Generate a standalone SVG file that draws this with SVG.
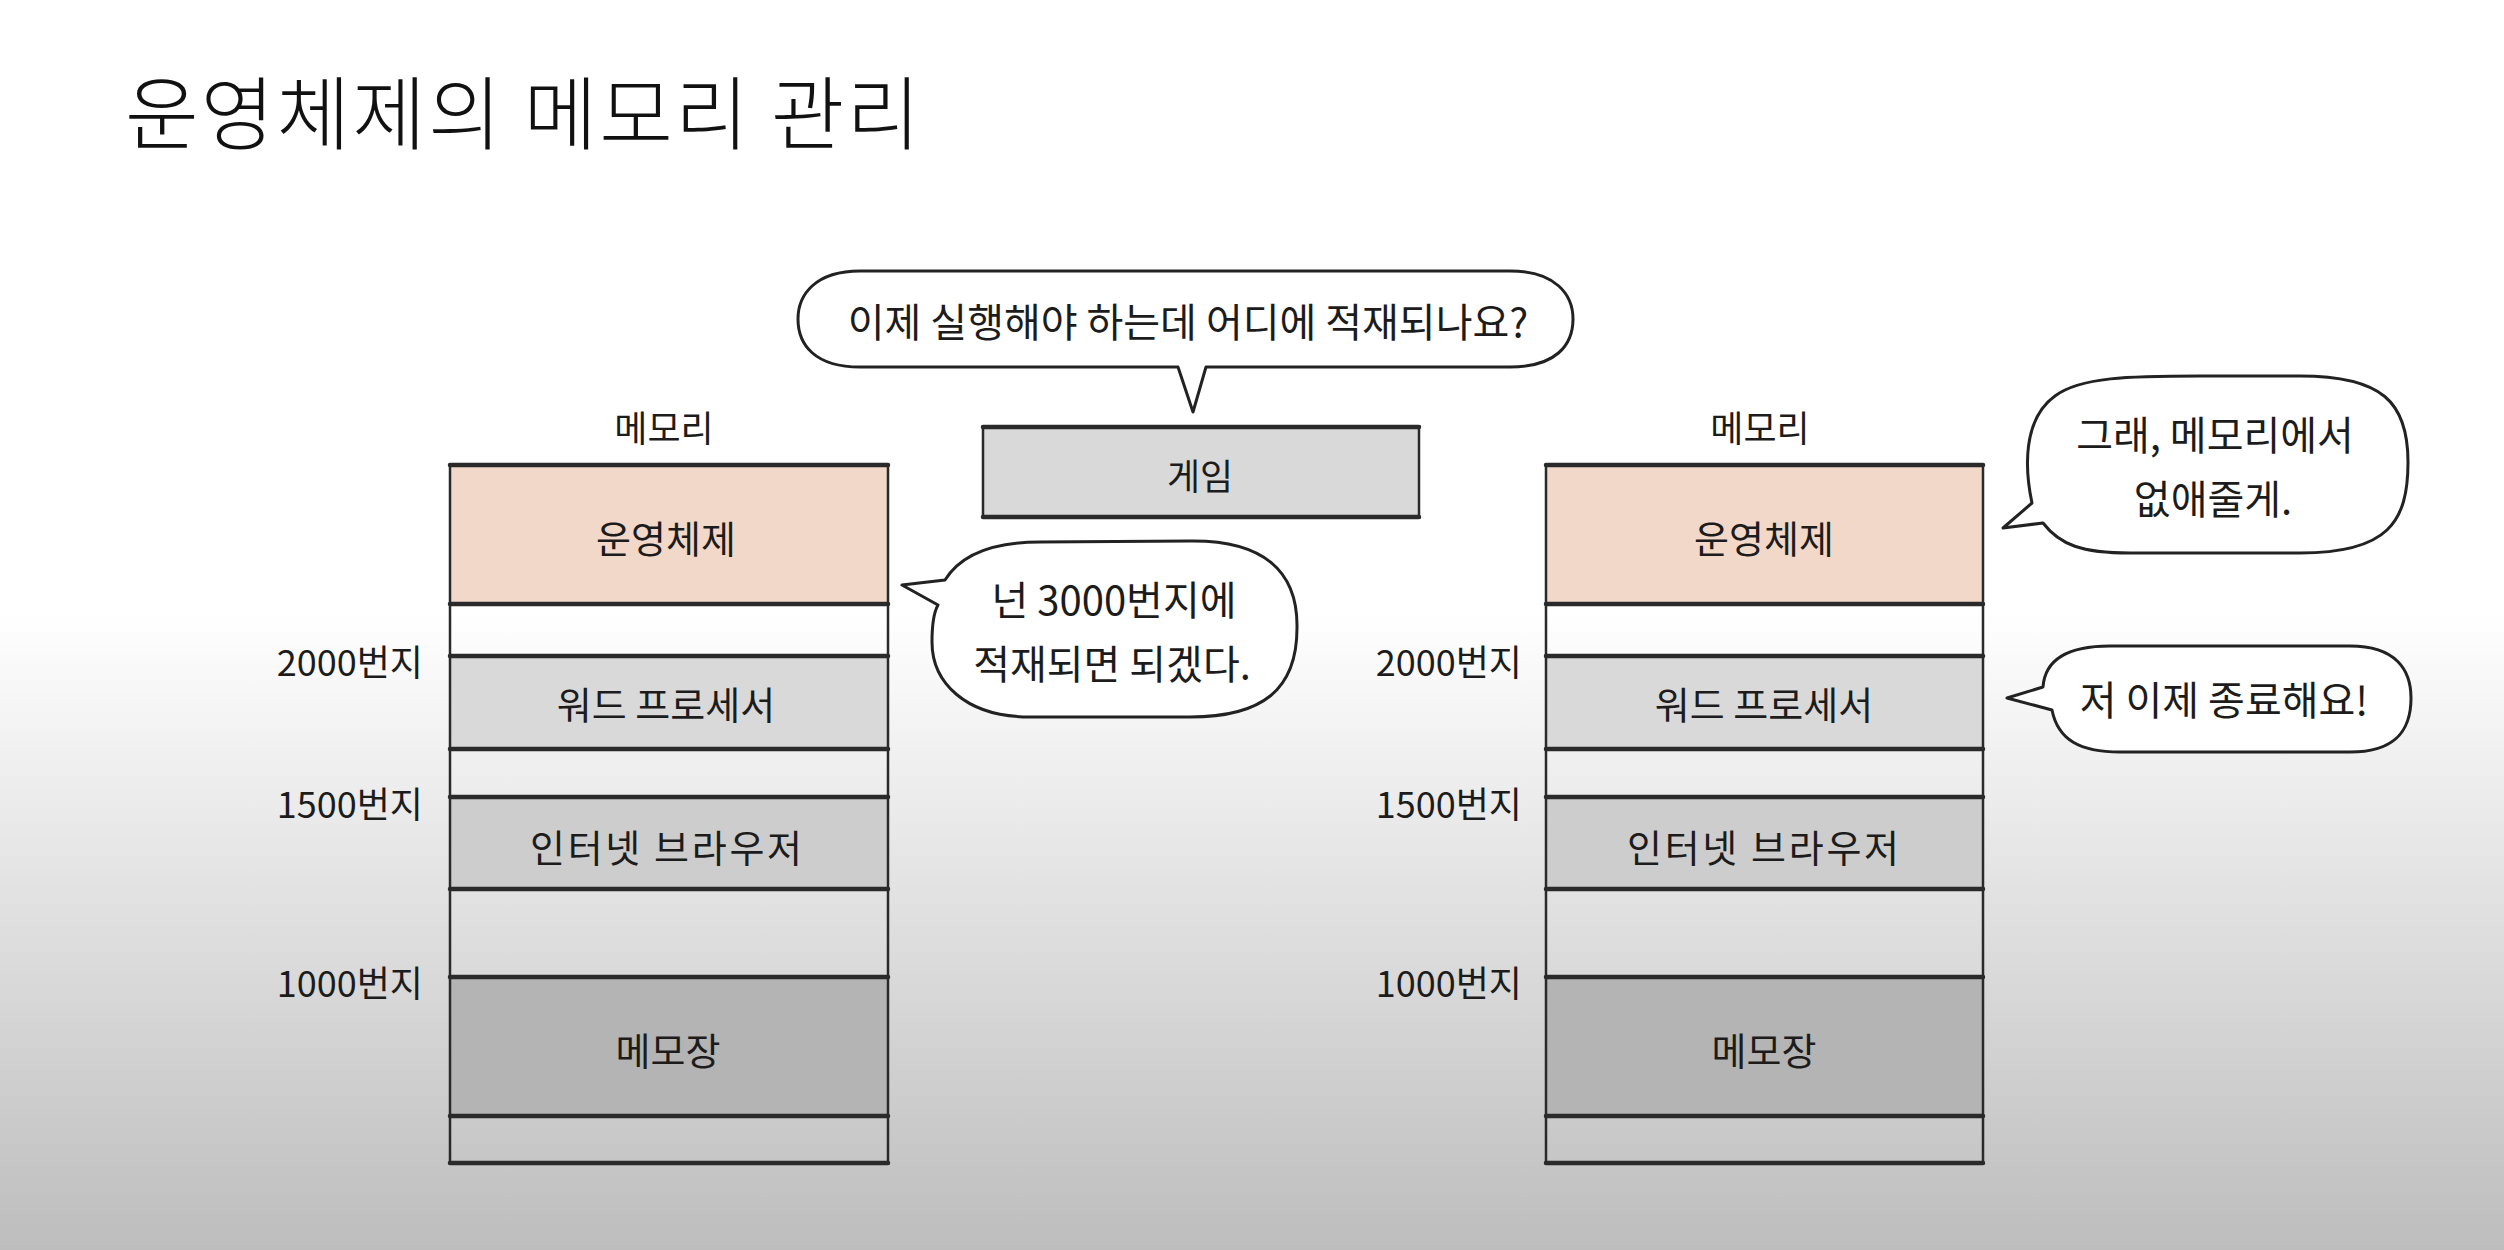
<svg xmlns="http://www.w3.org/2000/svg" width="2504" height="1250" viewBox="0 0 2504 1250">
  <defs>
    <linearGradient id="bg" x1="0" y1="0" x2="0" y2="1250" gradientUnits="userSpaceOnUse">
      <stop offset="0" stop-color="#ffffff"/>
      <stop offset="0.49" stop-color="#ffffff"/>
      <stop offset="1" stop-color="#bdbdbd"/>
    </linearGradient>
  </defs>
  <style>
    .t { font-family: "Noto Sans CJK KR", "Noto Sans", sans-serif; fill: #1c1c1c; text-anchor: middle; dominant-baseline: central; }
    .addr { font-family: "Noto Sans CJK KR", "Noto Sans", sans-serif; fill: #1c1c1c; text-anchor: end; dominant-baseline: central; font-size: 36px; }
    .blk { font-size: 38px; }
    .bub { font-size: 40px; }
    .h { stroke: #2a2a2a; stroke-width: 4.5; stroke-linecap: round; fill: none; }
    .v { stroke: #2a2a2a; stroke-width: 2.5; fill: none; }
    .bubble { fill: #ffffff; stroke: #222222; stroke-width: 3; stroke-linejoin: round; }
    .os { fill: #f2d8c9; }
    .word { fill: #d9d9d9; }
    .inet { fill: #cdcdcd; }
    .memo { fill: #b4b4b4; }
    .game { fill: #d9d9d9; }
  </style>

  <rect x="0" y="0" width="2504" height="1250" fill="url(#bg)"/>

  <g id="title">
    <text x="125" y="108" font-size="80" font-weight="300" textLength="795" lengthAdjust="spacing" style="font-family: 'Noto Sans CJK KR', 'Noto Sans', sans-serif; fill:#111; dominant-baseline: central;">운영체제의 메모리 관리</text>
  </g>

  <!-- Left memory -->
  <g id="memory-left">
    <text class="t" x="664" y="426" font-size="36">메모리</text>
    <rect class="os" x="450" y="465" width="438" height="139"/>
    <rect class="word" x="450" y="656" width="438" height="93"/>
    <rect class="inet" x="450" y="797" width="438" height="92"/>
    <rect class="memo" x="450" y="977" width="438" height="139"/>
    <line class="v" x1="450" y1="465" x2="450" y2="1163"/>
    <line class="v" x1="888" y1="465" x2="888" y2="1163"/>
    <line class="h" x1="450" y1="465" x2="888" y2="465"/>
    <line class="h" x1="450" y1="604" x2="888" y2="604"/>
    <line class="h" x1="450" y1="656" x2="888" y2="656"/>
    <line class="h" x1="450" y1="749" x2="888" y2="749"/>
    <line class="h" x1="450" y1="797" x2="888" y2="797"/>
    <line class="h" x1="450" y1="889" x2="888" y2="889"/>
    <line class="h" x1="450" y1="977" x2="888" y2="977"/>
    <line class="h" x1="450" y1="1116" x2="888" y2="1116"/>
    <line class="h" x1="450" y1="1163" x2="888" y2="1163"/>
    <text class="t blk" x="666" y="536">운영체제</text>
    <text class="t blk" x="666" y="702">워드 프로세서</text>
    <text class="t blk" x="666" y="845" textLength="272" lengthAdjust="spacing">인터넷 브라우저</text>
    <text class="t blk" x="668" y="1048">메모장</text>
    <text class="addr" x="423" y="660">2000번지</text>
    <text class="addr" x="423" y="802">1500번지</text>
    <text class="addr" x="423" y="981">1000번지</text>
  </g>

  <!-- Game -->
  <g id="game">
    <rect class="game" x="983" y="427" width="436" height="90"/>
    <line class="v" x1="983" y1="427" x2="983" y2="517"/>
    <line class="v" x1="1419" y1="427" x2="1419" y2="517"/>
    <line class="h" x1="983" y1="427" x2="1419" y2="427"/>
    <line class="h" x1="983" y1="517" x2="1419" y2="517"/>
    <text class="t" x="1200" y="474" font-size="36">게임</text>
  </g>

  <!-- Speech bubbles -->
  <g id="bubble-game">
    <path class="bubble" d="M 860 271 L 1510 271 C 1556 271 1573 295 1573 319 C 1573 345 1556 367 1510 367 L 1206 367 L 1193 412 L 1178 367 L 860 367 C 815 367 798 345 798 319 C 798 295 815 271 860 271 Z"/>
    <text class="t bub" x="1188" y="320">이제 실행해야 하는데 어디에 적재되나요?</text>
  </g>

  <g id="bubble-os-left">
    <path class="bubble" d="M 945 580 C 960 556 990 542 1040 542 L 1190 541 C 1262 540 1298 570 1297 628 C 1297 690 1262 717 1190 717 L 1030 717 C 965 717 932 682 932 642 C 932 624 934 612 938 605 L 902 585 Z"/>
    <text class="t bub" x="1114" y="598">넌 3000번지에</text>
    <text class="t bub" x="1112" y="662">적재되면 되겠다.</text>
  </g>

  <!-- Right memory -->
  <g id="memory-right">
    <text class="t" x="1760" y="426" font-size="36">메모리</text>
    <rect class="os" x="1546" y="465" width="437" height="139"/>
    <rect class="word" x="1546" y="656" width="437" height="93"/>
    <rect class="inet" x="1546" y="797" width="437" height="92"/>
    <rect class="memo" x="1546" y="977" width="437" height="139"/>
    <line class="v" x1="1546" y1="465" x2="1546" y2="1163"/>
    <line class="v" x1="1983" y1="465" x2="1983" y2="1163"/>
    <line class="h" x1="1546" y1="465" x2="1983" y2="465"/>
    <line class="h" x1="1546" y1="604" x2="1983" y2="604"/>
    <line class="h" x1="1546" y1="656" x2="1983" y2="656"/>
    <line class="h" x1="1546" y1="749" x2="1983" y2="749"/>
    <line class="h" x1="1546" y1="797" x2="1983" y2="797"/>
    <line class="h" x1="1546" y1="889" x2="1983" y2="889"/>
    <line class="h" x1="1546" y1="977" x2="1983" y2="977"/>
    <line class="h" x1="1546" y1="1116" x2="1983" y2="1116"/>
    <line class="h" x1="1546" y1="1163" x2="1983" y2="1163"/>
    <text class="t blk" x="1764" y="536">운영체제</text>
    <text class="t blk" x="1764" y="702">워드 프로세서</text>
    <text class="t blk" x="1763" y="845" textLength="272" lengthAdjust="spacing">인터넷 브라우저</text>
    <text class="t blk" x="1764" y="1048">메모장</text>
    <text class="addr" x="1522" y="660">2000번지</text>
    <text class="addr" x="1522" y="802">1500번지</text>
    <text class="addr" x="1522" y="981">1000번지</text>
  </g>

  <g id="bubble-os-right">
    <path class="bubble" d="M 2032 503 C 2025 470 2022 420 2055 396 C 2080 377 2130 376 2200 376 L 2300 376 C 2382 376 2408 402 2408 462 C 2408 522 2388 553 2300 553 L 2130 553 C 2082 553 2060 545 2043 523 L 2003 528 Z"/>
    <text class="t bub" x="2215" y="433">그래, 메모리에서</text>
    <text class="t bub" x="2213" y="497">없애줄게.</text>
  </g>

  <g id="bubble-word">
    <path class="bubble" d="M 2043 687 C 2045 660 2066 646 2110 646 L 2350 646 C 2396 646 2411 670 2411 698 C 2411 730 2396 752 2350 752 L 2120 752 C 2080 752 2058 740 2052 710 L 2007 698 Z"/>
    <text class="t bub" x="2224" y="698">저 이제 종료해요!</text>
  </g>
</svg>
